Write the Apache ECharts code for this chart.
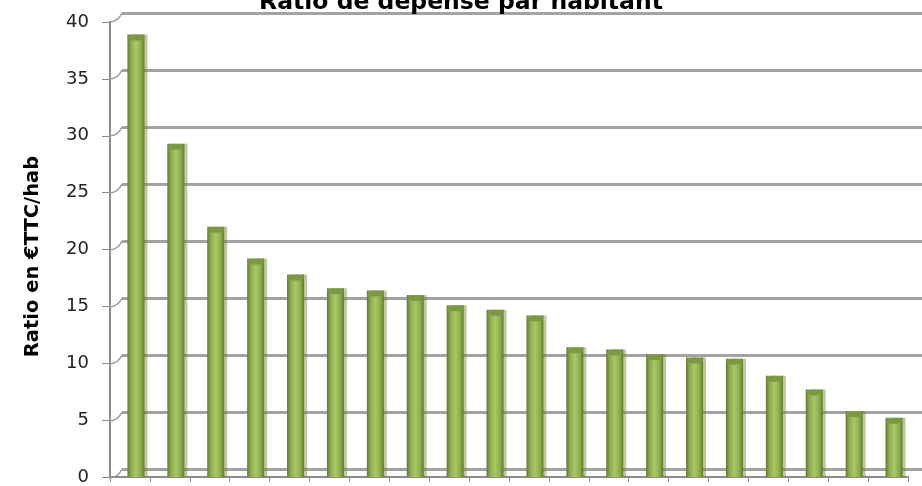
<!DOCTYPE html>
<html><head><meta charset="utf-8">
<script src="https://cdn.jsdelivr.net/npm/echarts@6/dist/echarts.min.js"></script>
<style>html,body{margin:0;padding:0;background:#fff}#c{width:922px;height:486px}</style>
</head><body><div id="c"></div>
<script>
var categories = ['1','2','3','4','5','6','7','8','9','10','11','12','13','14','15','16','17','18','19','20'];
var values = [38.9, 29.3, 22.0, 19.2, 17.8, 16.6, 16.4, 16.0, 15.1, 14.7, 14.2, 11.4, 11.2, 10.8, 10.5, 10.4, 8.9, 7.7, 5.8, 5.2];
var yTicks = [0, 5, 10, 15, 20, 25, 30, 35, 40];
var titleText = 'Ratio de dépense par habitant';
var yName = 'Ratio en €TTC/hab';

var chart = echarts.init(document.getElementById('c'));
var font = '"DejaVu Sans", sans-serif';
chart.setOption({
  animation: false,
  title: { text: titleText, left: 456, textAlign: 'center', top: -14,
    textStyle: { fontFamily: font, fontWeight: 'bold', fontSize: 23.5, color: '#000' } },
  grid: [
    { left: 122, right: 0, top: 13, bottom: 17 },
    { left: 110, right: 14, top: 22, bottom: 8 },
    { left: 116, right: 8, top: 22, bottom: 9 }
  ],
  xAxis: [
    { gridIndex: 0, type: 'value', min: 0, max: 1, show: false },
    { gridIndex: 1, type: 'category', data: categories,
      axisLine: { lineStyle: { color: '#8c8c8c', width: 2 } },
      axisTick: { show: true, length: 5, lineStyle: { color: '#8c8c8c' } },
      axisLabel: { show: false } },
    { gridIndex: 2, type: 'category', data: categories, show: false }
  ],
  yAxis: [
    { gridIndex: 0, type: 'value', min: 0, max: 40, interval: 5,
      axisLine: { show: false }, axisTick: { show: false }, axisLabel: { show: false },
      splitLine: { show: true, lineStyle: { color: '#a3a3a3', width: 3 } } },
    { gridIndex: 1, type: 'value', min: yTicks[0], max: yTicks[yTicks.length - 1], interval: 5,
      axisLine: { show: true, lineStyle: { color: '#8c8c8c', width: 2 } },
      axisTick: { show: true, length: 8, lineStyle: { color: '#8c8c8c' } },
      axisLabel: { margin: 21, fontFamily: font, fontSize: 18, color: '#222' },
      splitLine: { show: false },
      name: yName, nameLocation: 'middle', nameGap: 67, nameRotate: 90,
      nameTextStyle: { fontFamily: font, fontWeight: 'bold', fontSize: 19.5, color: '#000',
        padding: [0, 14, 0, 0] } },
    { gridIndex: 2, type: 'value', min: 0, max: 40, show: false }
  ],
  series: [
    { type: 'custom', xAxisIndex: 0, yAxisIndex: 0, silent: true,
      data: yTicks.map(function (v) { return [0, v]; }),
      renderItem: function (params, api) {
        var p = api.coord([0, api.value(1)]);
        return { type: 'bezierCurve', shape: { x1: p[0] - 13, y1: p[1] + 9, x2: p[0], y2: p[1],
            cpx1: p[0] - 4, cpy1: p[1] + 9 },
          style: { stroke: '#9a9a9a', lineWidth: 1.5, fill: null } };
      } },
    { type: 'bar', xAxisIndex: 2, yAxisIndex: 2, data: values, barWidth: 17, z: 3,
      itemStyle: {
        color: new echarts.graphic.LinearGradient(0, 0, 1, 0, [
          { offset: 0, color: '#5e792b' }, { offset: 0.2, color: '#8aab4b' },
          { offset: 0.5, color: '#a9c967' }, { offset: 0.8, color: '#8bac4d' },
          { offset: 1, color: '#5f7b2c' }]),
        shadowColor: 'rgba(110,130,70,0.45)', shadowOffsetX: 3, shadowBlur: 0 } },
    { type: 'pictorialBar', xAxisIndex: 2, yAxisIndex: 2, data: values, symbol: 'circle',
      symbolSize: [17, 6], symbolPosition: 'end', z: 4,
      itemStyle: { color: '#7b9842' } }
  ]
});
</script></body></html>
